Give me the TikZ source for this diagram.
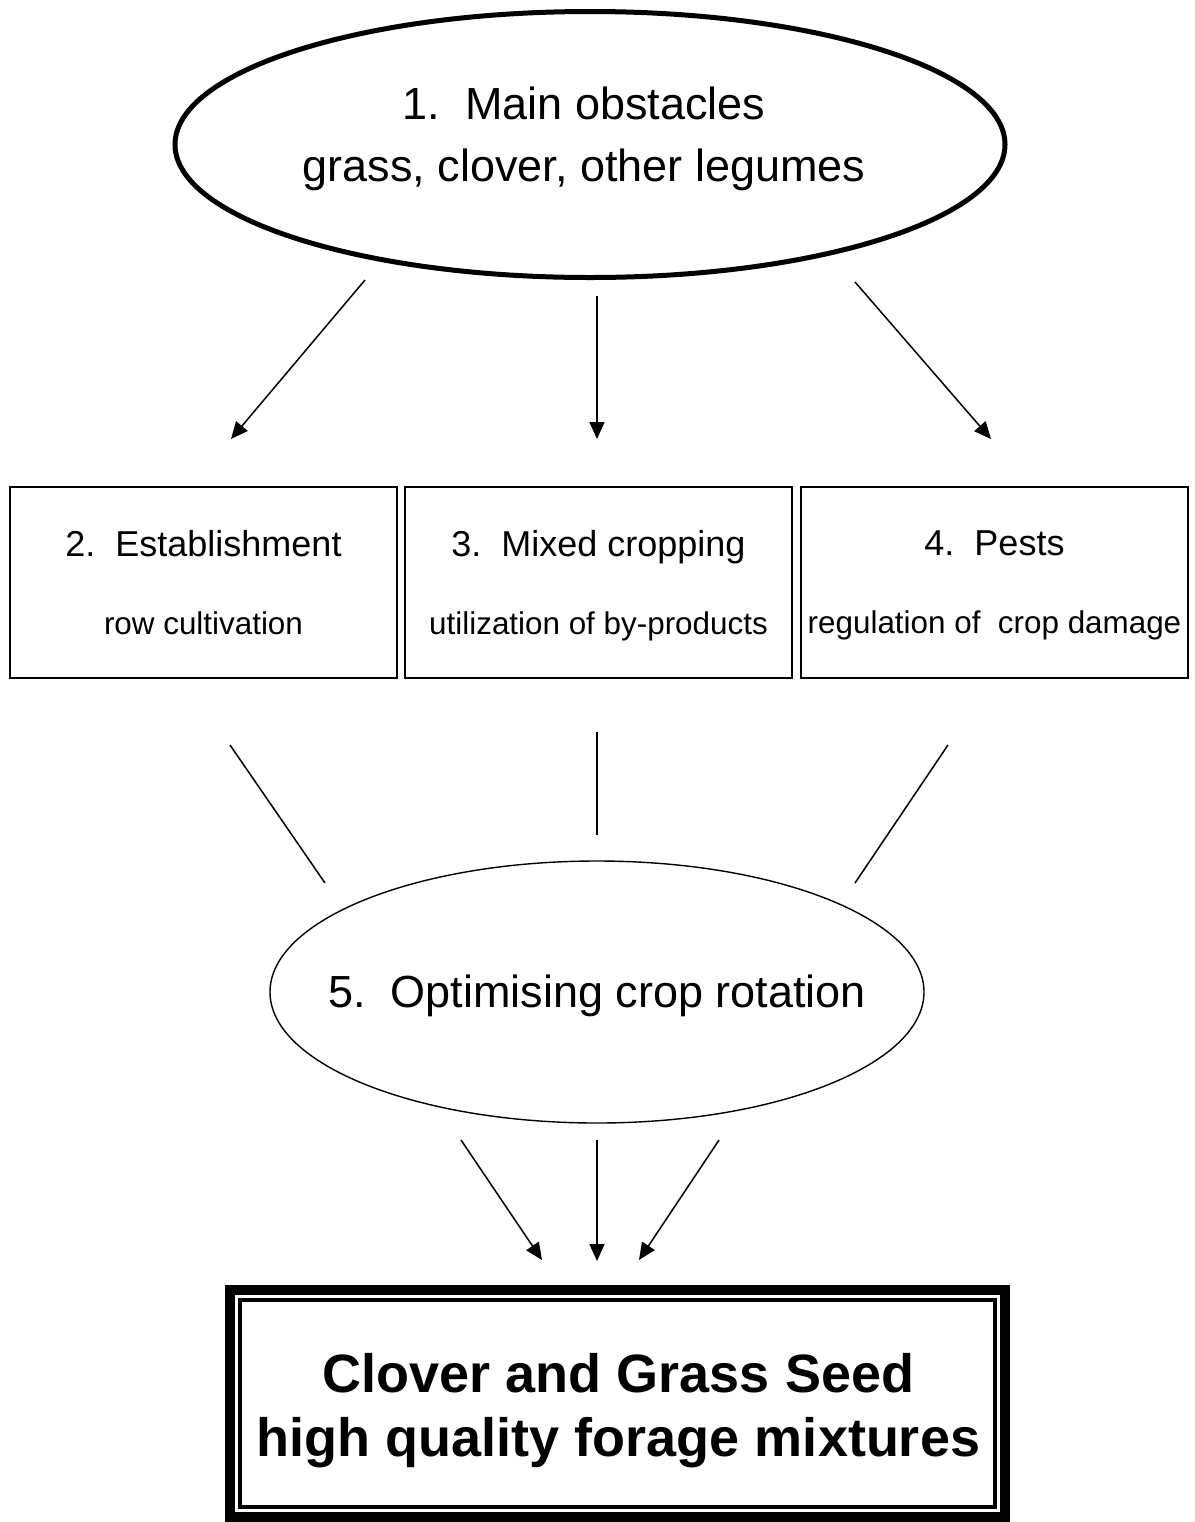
\documentclass[tikz,border=0pt]{standalone}
\usepackage{fontspec}
\setmainfont{Liberation Sans}
\usetikzlibrary{shapes.geometric,arrows.meta}

\begin{document}
\begin{tikzpicture}[x=0.5pt,y=-0.5pt,
  bigell/.style={ellipse,draw,line width=2.5pt,inner sep=0pt,outer sep=0pt,
    minimum width=415pt,minimum height=133pt},
  rotell/.style={ellipse,draw,line width=0.7pt,inner sep=0pt,outer sep=0pt,
    minimum width=327pt,minimum height=131pt},
  bigtxt/.style={align=center,font=\fontsize{22.5}{31}\selectfont},
  box/.style={rectangle,draw,line width=0.75pt,inner sep=0pt,outer sep=0pt,
    minimum width=193.5pt,minimum height=95.5pt,align=center,text depth=0pt,
    font=\fontsize{15.7}{39}\selectfont},
  seedbox/.style={rectangle,draw,line width=5pt,inner sep=0pt,outer sep=0pt,
    minimum width=387.5pt,minimum height=113.5pt},
  seedtxt/.style={align=center,font=\bfseries\fontsize{27}{32}\selectfont},
  arr/.style={-{Triangle[length=8.5pt,width=7.5pt]},line width=0.75pt},
  link/.style={line width=0.75pt}]
  \useasboundingbox (0,0) rectangle (1195,1522);

  \draw (590,144.5) node[bigell] (obst) {};
  \node[bigtxt] (obsttxt) at (584,138.5) {1.\ \ Main obstacles\\grass, clover, other legumes};

  \draw (203.5,582.5) node[box] (est) {{\fontsize{18}{39}\selectfont 2.\ \ Establishment}\\row cultivation};
  \draw (598.5,582.5) node[box] (mix) {{\fontsize{18}{39}\selectfont 3.\ \ Mixed cropping}\\utilization of by-products};
  \draw (994.5,582.5) node[box] (pest) {{\fontsize{18}{39}\selectfont 4.\ \ Pests}\\regulation of\ \ crop damage};

  \draw (597,992) node[rotell] (rot) {};
  \node[bigtxt] (rottxt) at (597,996) {5.\ \ Optimising crop rotation};

  \draw (617.5,1403.5) node[seedbox] (seed) {};
  \draw[line width=2pt] ([shift={(10,10)}]seed.north west) rectangle ([shift={(-10,-10)}]seed.south east);
  \node[seedtxt] (seedlbl) at (618.5,1411) {Clover and Grass Seed\\high quality forage mixtures};

  \coordinate (oa) at (365,280);
  \coordinate (ob) at (597,296);
  \coordinate (oc) at (855,282);
  \coordinate (ea) at (231,439);
  \coordinate (eb) at (597,439);
  \coordinate (ec) at (991,439);

  \coordinate (la) at (230,745);
  \coordinate (lb) at (597,732);
  \coordinate (lc) at (948,745);
  \coordinate (ra) at (325,883);
  \coordinate (rb) at (597,835);
  \coordinate (rc) at (855,883);

  \coordinate (sa) at (461,1140);
  \coordinate (sb) at (597,1140);
  \coordinate (sc) at (719,1140);
  \coordinate (da) at (542,1260);
  \coordinate (db) at (597,1261);
  \coordinate (dc) at (639,1260);

  \draw[arr] (oa) -- (ea);
  \draw[arr] (ob) -- (eb);
  \draw[arr] (oc) -- (ec);
  \draw[link] (la) -- (ra);
  \draw[link] (lb) -- (rb);
  \draw[link] (lc) -- (rc);
  \draw[arr] (sa) -- (da);
  \draw[arr] (sb) -- (db);
  \draw[arr] (sc) -- (dc);
\end{tikzpicture}
\end{document}
